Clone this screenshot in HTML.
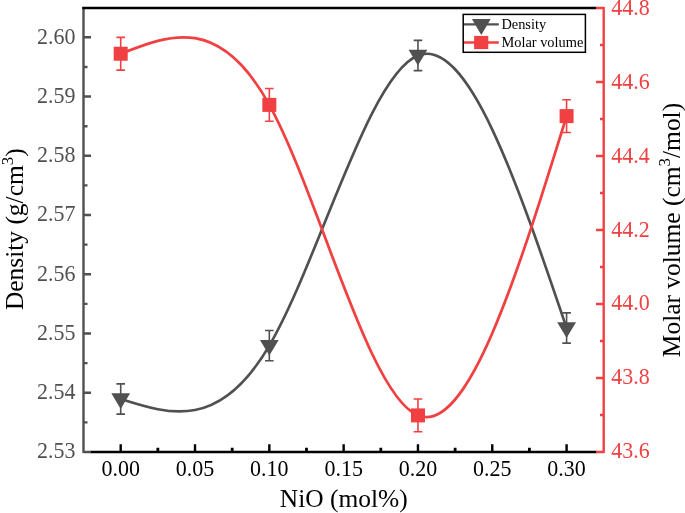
<!DOCTYPE html>
<html><head><meta charset="utf-8"><title>Density and molar volume vs NiO</title>
<style>
html,body{margin:0;padding:0;background:#fff;}
body{width:685px;height:513px;overflow:hidden;position:relative;font-family:"Liberation Serif",serif;}
</style></head><body>
<svg width="685" height="513" viewBox="0 0 685 513" style="position:absolute;left:0;top:0;will-change:transform;opacity:0.9999">
<rect width="685" height="513" fill="#fff"/>
<path d="M120.70 399.00 C170.24 414.74 219.79 430.48 269.33 345.60 C318.87 260.72 368.42 75.20 417.96 55.50 C467.50 35.80 517.05 181.90 566.59 328.00" fill="none" stroke="#505050" stroke-width="2.65"/>
<path d="M120.70 53.75 C170.24 34.20 219.79 14.64 269.33 104.90 C318.87 195.16 368.42 395.23 417.96 415.40 C467.50 435.57 517.05 275.83 566.59 116.10" fill="none" stroke="#f04041" stroke-width="2.75"/>
<path d="M120.70 383.90V414.10 M116.40 383.90h8.6 M116.40 414.10h8.6" stroke="#505050" stroke-width="1.6" fill="none"/>
<path d="M111.30 393.30h18.8l-9.4 15.7z" fill="#505050"/>
<path d="M269.33 330.50V360.70 M265.03 330.50h8.6 M265.03 360.70h8.6" stroke="#505050" stroke-width="1.6" fill="none"/>
<path d="M259.93 339.90h18.8l-9.4 15.7z" fill="#505050"/>
<path d="M417.96 40.40V70.60 M413.66 40.40h8.6 M413.66 70.60h8.6" stroke="#505050" stroke-width="1.6" fill="none"/>
<path d="M408.56 49.80h18.8l-9.4 15.7z" fill="#505050"/>
<path d="M566.59 312.90V343.10 M562.29 312.90h8.6 M562.29 343.10h8.6" stroke="#505050" stroke-width="1.6" fill="none"/>
<path d="M557.19 322.30h18.8l-9.4 15.7z" fill="#505050"/>
<path d="M120.70 37.35V70.15 M116.40 37.35h8.6 M116.40 70.15h8.6" stroke="#f04041" stroke-width="1.6" fill="none"/>
<rect x="113.70" y="46.75" width="14" height="14" fill="#f04041"/>
<path d="M269.33 88.50V121.30 M265.03 88.50h8.6 M265.03 121.30h8.6" stroke="#f04041" stroke-width="1.6" fill="none"/>
<rect x="262.33" y="97.90" width="14" height="14" fill="#f04041"/>
<path d="M417.96 399.00V431.80 M413.66 399.00h8.6 M413.66 431.80h8.6" stroke="#f04041" stroke-width="1.6" fill="none"/>
<rect x="410.96" y="408.40" width="14" height="14" fill="#f04041"/>
<path d="M566.59 99.70V132.50 M562.29 99.70h8.6 M562.29 132.50h8.6" stroke="#f04041" stroke-width="1.6" fill="none"/>
<rect x="559.59" y="109.10" width="14" height="14" fill="#f04041"/>
<path d="M90.50 452.00H596.70" stroke="#000" stroke-width="2.4"/>
<path d="M157.86 452.00v-4.2 M232.17 452.00v-4.2 M306.49 452.00v-4.2 M380.80 452.00v-4.2 M455.12 452.00v-4.2 M529.43 452.00v-4.2 " stroke="#000" stroke-width="2.8" fill="none"/>
<path d="M120.70 452.00v-7.7 M195.01 452.00v-7.7 M269.33 452.00v-7.7 M343.65 452.00v-7.7 M417.96 452.00v-7.7 M492.27 452.00v-7.7 M566.59 452.00v-7.7 " stroke="#000" stroke-width="2.4" fill="none"/>
<path d="M83.50 6.90V453.10 M83.50 452.00h7.5 M83.50 392.76h7.5 M83.50 333.52h7.5 M83.50 274.28h7.5 M83.50 215.04h7.5 M83.50 155.80h7.5 M83.50 96.56h7.5 M83.50 37.32h7.5 M83.50 422.38h4 M83.50 363.14h4 M83.50 303.90h4 M83.50 244.66h4 M83.50 185.42h4 M83.50 126.18h4 M83.50 66.94h4 " stroke="#505050" stroke-width="2.4" fill="none"/>
<path d="M82.30 8.00H596.70" stroke="#000" stroke-width="2.5"/>
<path d="M603.70 6.90V453.10 M603.70 452.00h-7.7 M603.70 378.00h-7.7 M603.70 304.00h-7.7 M603.70 230.00h-7.7 M603.70 156.00h-7.7 M603.70 82.00h-7.7 M603.70 8.00h-7.7 M603.70 415.00h-3.7 M603.70 341.00h-3.7 M603.70 267.00h-3.7 M603.70 193.00h-3.7 M603.70 119.00h-3.7 M603.70 45.00h-3.7 " stroke="#f04041" stroke-width="2.4" fill="none"/>
<g font-family="Liberation Serif, serif" font-size="22">
<text transform="translate(75.5,458.20) scale(1,1.075)" text-anchor="end" fill="#505050">2.53</text>
<text transform="translate(75.5,399.02) scale(1,1.075)" text-anchor="end" fill="#505050">2.54</text>
<text transform="translate(75.5,339.84) scale(1,1.075)" text-anchor="end" fill="#505050">2.55</text>
<text transform="translate(75.5,280.66) scale(1,1.075)" text-anchor="end" fill="#505050">2.56</text>
<text transform="translate(75.5,221.48) scale(1,1.075)" text-anchor="end" fill="#505050">2.57</text>
<text transform="translate(75.5,162.30) scale(1,1.075)" text-anchor="end" fill="#505050">2.58</text>
<text transform="translate(75.5,103.12) scale(1,1.075)" text-anchor="end" fill="#505050">2.59</text>
<text transform="translate(75.5,43.94) scale(1,1.075)" text-anchor="end" fill="#505050">2.60</text>
<text transform="translate(611.3,458.10) scale(1,1.075)" fill="#f04041">43.6</text>
<text transform="translate(611.3,384.25) scale(1,1.075)" fill="#f04041">43.8</text>
<text transform="translate(611.3,310.40) scale(1,1.075)" fill="#f04041">44.0</text>
<text transform="translate(611.3,236.55) scale(1,1.075)" fill="#f04041">44.2</text>
<text transform="translate(611.3,162.70) scale(1,1.075)" fill="#f04041">44.4</text>
<text transform="translate(611.3,88.85) scale(1,1.075)" fill="#f04041">44.6</text>
<text transform="translate(611.3,15.00) scale(1,1.075)" fill="#f04041">44.8</text>
<text transform="translate(120.70,476.4) scale(1,1.075)" text-anchor="middle" fill="#000">0.00</text>
<text transform="translate(195.01,476.4) scale(1,1.075)" text-anchor="middle" fill="#000">0.05</text>
<text transform="translate(269.33,476.4) scale(1,1.075)" text-anchor="middle" fill="#000">0.10</text>
<text transform="translate(343.65,476.4) scale(1,1.075)" text-anchor="middle" fill="#000">0.15</text>
<text transform="translate(417.96,476.4) scale(1,1.075)" text-anchor="middle" fill="#000">0.20</text>
<text transform="translate(492.27,476.4) scale(1,1.075)" text-anchor="middle" fill="#000">0.25</text>
<text transform="translate(566.59,476.4) scale(1,1.075)" text-anchor="middle" fill="#000">0.30</text>
</g>
<g font-family="Liberation Serif, serif" font-size="25.45" fill="#000">
<text x="343.8" y="507.4" text-anchor="middle">NiO (mol%)</text>
<text transform="translate(23,229.2) rotate(-90)" text-anchor="middle">Density (g/cm<tspan font-size="17" dy="-10">3</tspan><tspan dy="10">)</tspan></text>
<text transform="translate(679.8,230) rotate(-90)" text-anchor="middle">Molar volume (cm<tspan font-size="17" dy="-10">3</tspan><tspan dy="10">/mol)</tspan></text>
</g>
<rect x="463.2" y="14.4" width="122.2" height="37.9" fill="#fff" stroke="#000" stroke-width="1.5"/>
<path d="M464 24.45H498.8" stroke="#505050" stroke-width="2.2"/>
<path d="M471.9 19h18.8l-9.4 15.9z" fill="#505050"/>
<path d="M464 42.45H498.8" stroke="#f04041" stroke-width="2.6"/>
<rect x="474.1" y="35.9" width="14.2" height="13.2" fill="#f04041"/>
<g font-family="Liberation Serif, serif" font-size="14.4" fill="#000">
<text x="501.4" y="28.5">Density</text>
<text x="501.4" y="47.3">Molar volume</text>
</g>
</svg>
</body></html>
